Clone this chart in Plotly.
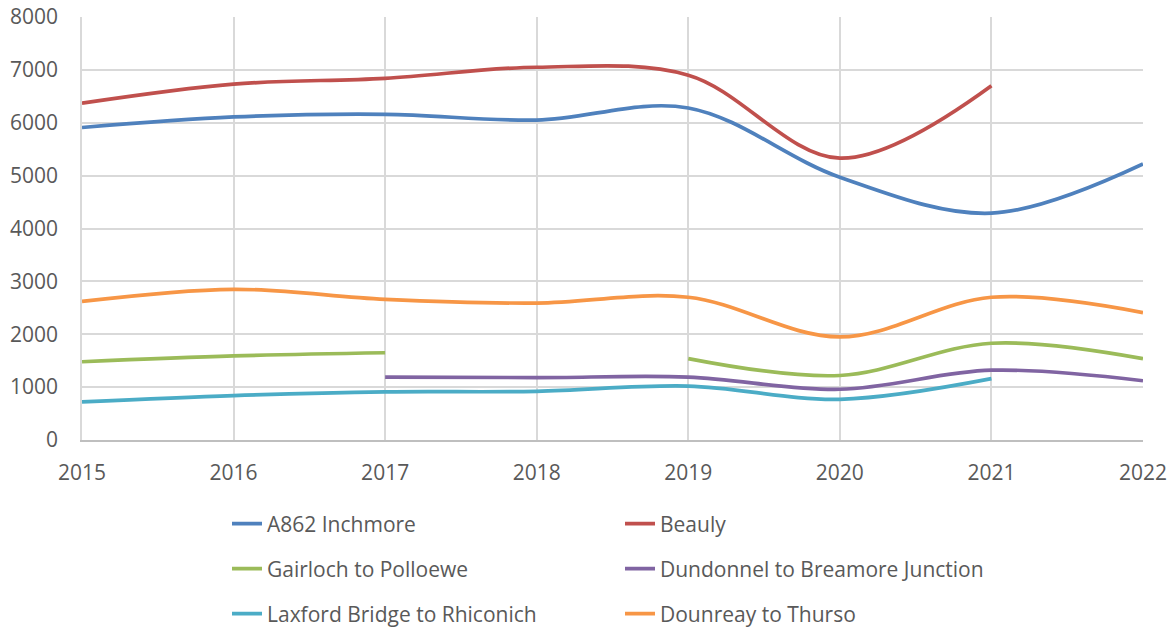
import plotly.graph_objects as go

years = [2015, 2016, 2017, 2018, 2019, 2020, 2021, 2022]

inchmore = [5910, 6110, 6160, 6050, 6280, 4970, 4290, 5220]
beauly = [6370, 6730, 6840, 7050, 6900, 5330, 6700, None]
gairloch = [1480, 1590, 1650, None, 1540, 1220, 1830, 1540]
dundonnel = [None, None, 1190, 1180, 1190, 960, 1320, 1120]
laxford = [720, 840, 910, 920, 1020, 770, 1160, None]
dounreay = [2620, 2850, 2660, 2590, 2700, 1950, 2700, 2410]

series = [
    ("A862 Inchmore", inchmore, "#4F81BD", "legend"),
    ("Beauly", beauly, "#C0504D", "legend"),
    ("Gairloch to Polloewe", gairloch, "#9BBB59", "legend2"),
    ("Dundonnel to Breamore Junction", dundonnel, "#8064A2", "legend2"),
    ("Laxford Bridge to Rhiconich", laxford, "#4BACC6", "legend3"),
    ("Dounreay to Thurso", dounreay, "#F79646", "legend3"),
]

fig = go.Figure()
for name, vals, col, leg in series:
    fig.add_trace(go.Scatter(
        x=years, y=vals, name=name, mode="lines",
        line=dict(color=col, width=3.7, shape="spline", smoothing=1.0),
        connectgaps=False, legend=leg
    ))

W, H = 1173, 628
font = dict(family="Open Sans, Noto Sans, sans-serif", size=21, color="#595959")
legend_style = dict(orientation="h", xref="container", yref="container",
                    x=227 / W, xanchor="left", yanchor="middle",
                    entrywidth=348, font=font, bgcolor="rgba(0,0,0,0)")

fig.update_layout(
    width=W, height=H,
    margin=dict(l=82, r=30, t=17, b=188, autoexpand=False),
    paper_bgcolor="white", plot_bgcolor="white",
    font=font,
    legend=dict(legend_style, y=1 - 524 / H),
    legend2=dict(legend_style, y=1 - 569 / H),
    legend3=dict(legend_style, y=1 - 614 / H),
)
fig.update_xaxes(
    range=[2015, 2022], dtick=1, showgrid=True, gridcolor="#D9D9D9", gridwidth=1.5,
    showline=True, linecolor="#BFBFBF", linewidth=1.5, zeroline=False,
    ticks="outside", ticklen=13, tickcolor="rgba(0,0,0,0)", tickfont=font,
    automargin=False, ticklabeloverflow="allow"
)
fig.update_yaxes(
    range=[0, 8000], dtick=1000, showgrid=True, gridcolor="#D9D9D9", gridwidth=1.5,
    showline=True, linecolor="#D9D9D9", linewidth=1.5, zeroline=False,
    ticks="outside", ticklen=18, tickcolor="rgba(0,0,0,0)", tickfont=font,
    automargin=False, ticklabeloverflow="allow"
)

# drop the default page margin so the figure fills the window
fig.write_html("out.html", config={"displayModeBar": False},
               post_script="document.body.style.margin='0';")
